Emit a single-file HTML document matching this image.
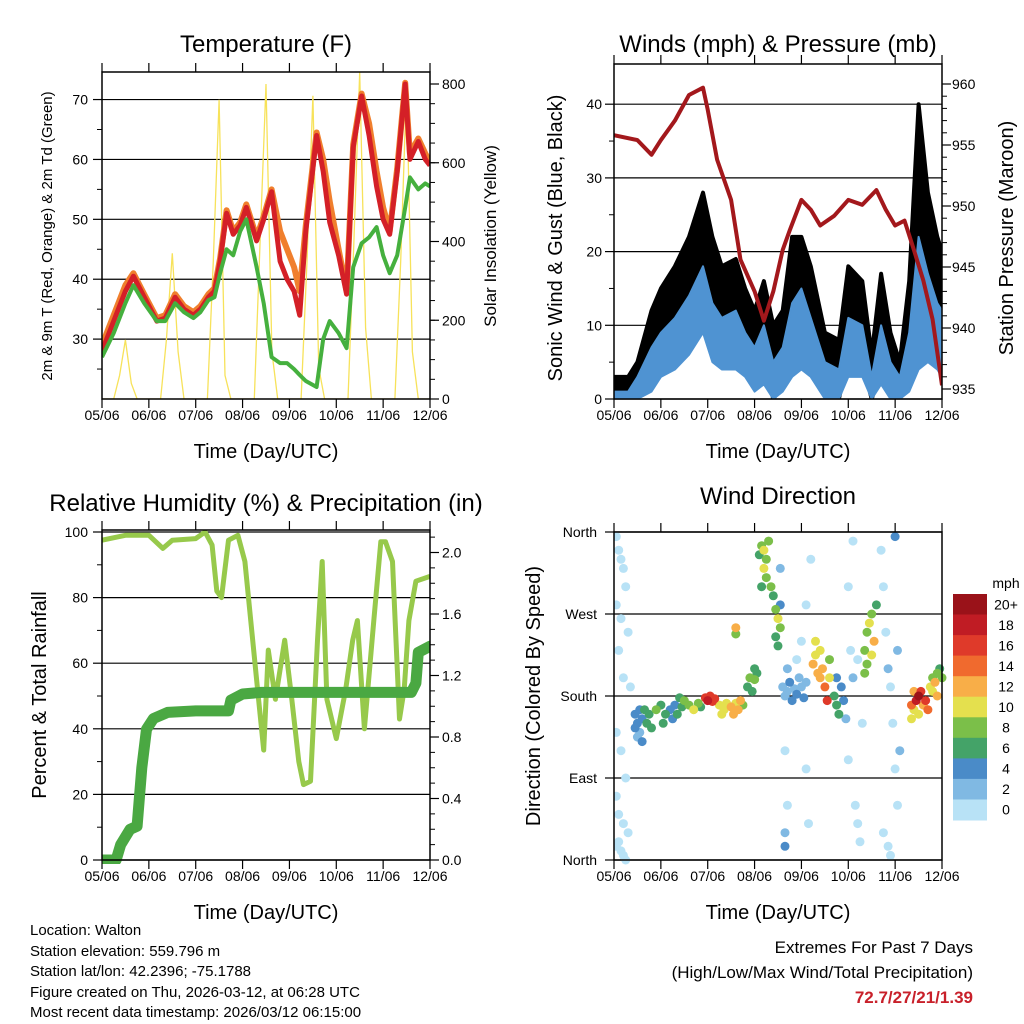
<!DOCTYPE html>
<html><head><meta charset="utf-8"><style>
html,body{margin:0;padding:0;background:#fff;}
svg{display:block;font-family:"Liberation Sans",sans-serif;}
</style></head><body>
<svg id="root" width="1024" height="1024" xmlns="http://www.w3.org/2000/svg"></svg>
<script>
// ---------- DATA ----------
const dayLabels = ["05/06","06/06","07/06","08/06","09/06","10/06","11/06","12/06"];
// Temperature
const tT = [0,0.25,0.5,0.67,0.9,1.17,1.35,1.56,1.75,1.95,2.1,2.27,2.4,2.52,2.66,2.8,2.95,3.08,3.3,3.45,3.62,3.8,3.95,4.1,4.22,4.35,4.58,4.72,4.86,5.05,5.22,5.36,5.54,5.7,5.86,6.0,6.14,6.3,6.47,6.57,6.75,6.9,7.0];
const temp2m = [28,33,38,40.5,37,33,33.5,37,35,34,35,37,38,43,51,47.5,49,52,46.4,50,54.6,43,40,38,34,48,64,58,49.5,44,37.5,62,70.6,64,55.5,50,47.5,58,72.6,60,63,60,59];
const temp9m = [29,34,39,41,37.5,33.5,34,37.5,35.5,34.5,35.5,37.5,38.5,43.5,51.5,48,49.5,52.5,47,50.5,55,48,45,42,38,49,64.5,60,53,45,38,62.5,71,66,58,52,48,58.5,72.8,61,63.5,61,59.5];
const dew2m = [27,31,36,39,36,33,33,36,34.5,33.5,34.5,36.5,37,41,45,44,48,50,42,36,27,26,26,25,24,23,22,30,33,31,28.5,42,46,47,48.7,44,41,44,52,57,55,56,55.5];
const tS = [];
for (let d=0; d<=7; d+=0.125) tS.push(d);
const solar = [0,0,0,60,150,40,0,0, 0,0,0,150,370,120,0,0, 0,0,0,350,760,60,0,0, 0,0,0,400,800,120,0,0, 0,0,0,350,770,80,0,0, 0,0,0,400,830,180,0,0, 0,0,0,350,800,120,0,0, 0];
// Winds
const tW = [0,0.3,0.5,0.8,1.0,1.3,1.6,1.9,2.1,2.3,2.6,2.8,3.0,3.2,3.4,3.6,3.8,4.0,4.2,4.5,4.8,5.0,5.3,5.5,5.7,5.9,6.1,6.3,6.5,6.7,6.9,7.0];
const gustHi = [3,3,5,12,15,18,22,28,22,18,19,15,12,16,10,12,22,22,18,9,8,18,16,6,17,9,5,16,40,28,22,20];
const gustLo = [0,0,0,3,5,7,10,14,8,6,7,5,3,5,0,2,5,8,5,1,0,6,5,0,4,1,0,3,8,10,7,5];
const windHi = [1,1,3,7,9,11,14,18,13,11,12,9,7,10,5,7,13,15,11,5,4,11,10,3,10,5,3,9,22,17,13,12];
const windLo = [0,0,0,1,3,4,6,9,5,4,4,3,1,2,0,1,3,4,3,0,0,3,3,0,2,0,0,1,4,5,4,3];
const tP = [0,0.5,0.8,1.0,1.3,1.6,1.9,2.0,2.2,2.5,2.7,3.0,3.2,3.4,3.6,3.75,4.0,4.2,4.4,4.7,5.0,5.3,5.6,5.8,6.0,6.2,6.4,6.6,6.8,7.0];
const pressure = [955.8,955.4,954.2,955.4,957,959.1,959.7,957.9,953.8,950.5,945.6,943,940.6,943,946.4,948,950.5,949.7,948.4,949.2,950.5,950.1,951.3,949.7,948.4,948.8,946.4,943.9,940.7,935.3];
// RH & precip
const tR = [0,0.5,1.0,1.3,1.5,2.0,2.2,2.35,2.45,2.55,2.7,2.9,3.05,3.3,3.45,3.55,3.7,3.9,4.05,4.2,4.3,4.45,4.6,4.7,4.8,5.0,5.2,5.35,5.45,5.6,5.8,5.95,6.05,6.2,6.35,6.45,6.55,6.7,7.0];
const rh = [97.5,99,99,95,97.5,98,100,96,82,80,97.5,99,91,55,33.5,64,49,67,49,30,23,24,67,91,49,37,52,67,73,40,73,97,97,91,43,52,73,85,86.5];
const tPr = [0,0.3,0.4,0.6,0.75,0.85,0.95,1.1,1.4,2.0,2.7,2.75,3.0,3.4,6.6,6.7,6.75,7.0];
const precip = [0,0,0.1,0.2,0.22,0.6,0.85,0.92,0.96,0.97,0.97,1.04,1.08,1.09,1.09,1.15,1.35,1.39];
// Wind direction scatter
const dirDay = [0.05,0.1,0.15,0.2,0.25,0.05,0.15,0.3,0.1,0.2,0.35,0.05,0.15,0.25,0.05,0.1,0.2,0.3,0.1,0.15,0.2,0.25,0.05,
0.45,0.5,0.55,0.6,0.45,0.5,0.65,0.7,0.75,0.8,0.55,0.6,
0.9,1.0,1.1,1.2,1.3,1.35,1.45,1.5,1.6,1.7,1.8,1.85,1.05,1.25,1.4,
1.95,2.0,2.05,2.1,2.15,
2.25,2.35,2.4,2.5,2.55,2.65,2.7,2.3,2.6,2.75,2.6,2.6,
2.85,2.9,3.0,3.05,2.95,3.0,
3.1,3.15,3.2,3.25,3.3,3.2,3.25,3.35,3.4,3.45,3.5,3.55,3.45,3.5,3.55,3.55,3.15,
3.6,3.65,3.7,3.75,3.8,3.85,3.9,3.95,4.0,4.05,4.1,3.7,3.9,4.0,3.65,3.7,3.65,3.65,4.1,4.1,4.2,4.15,
4.25,4.3,4.35,4.4,4.45,4.5,4.55,4.4,4.3,4.6,4.6,
4.7,4.75,4.8,4.85,4.75,4.9,4.95,
5.0,5.05,5.1,5.15,5.2,5.25,5.0,5.1,5.2,5.3,
5.35,5.4,5.45,5.5,5.55,5.5,5.4,5.6,5.35,
5.7,5.75,5.8,5.85,5.9,5.95,6.0,6.05,5.75,5.85,5.9,6.05,6.0,6.1,
6.35,6.4,6.45,6.5,6.55,6.6,6.65,6.4,6.5,6.7,6.35,
6.75,6.8,6.85,6.9,6.95,7.0,6.8,6.9];
const dirDeg = [355,340,330,320,300,280,265,250,230,200,190,140,120,90,70,50,40,30,20,10,5,0,15,
160,150,140,155,145,135,165,150,160,145,165,130,
165,170,160,165,170,160,168,175,170,165,172,168,150,155,178,
178,175,180,174,177,
170,165,172,168,160,165,175,160,172,170,255,248,
190,200,198,205,185,210,
335,345,340,330,350,320,310,300,290,275,265,255,245,235,280,320,300,
190,180,185,195,175,188,182,200,190,178,195,210,220,240,120,60,30,15,100,280,330,40,
215,225,205,230,210,190,175,200,240,220,200,
180,170,160,190,200,175,155,
300,230,200,60,40,20,110,350,220,150,
230,250,260,270,240,225,215,280,205,
340,300,250,210,190,150,100,60,30,15,5,230,355,120,
170,165,175,180,185,170,175,185,160,165,155,
190,200,195,205,210,200,185,180];
const dirSpd = [0,0,1,0,0,1,0,0,0,1,0,0,0,1,0,0,0,0,0,0,1,0,1,
4,4,3,5,4,3,6,6,7,6,4,4,
8,7,6,4,5,6,7,8,9,10,8,7,6,4,6,
17,18,17,16,17,
10,11,10,12,12,12,12,10,11,8,12,8,
7,8,8,6,7,6,
6,8,10,9,8,10,8,8,7,8,10,8,6,7,4,2,6,
2,3,2,4,4,3,4,2,3,4,2,2,1,1,0,0,2,4,0,0,0,0,
12,10,12,11,13,14,16,12,10,8,10,
6,6,7,5,4,4,3,
1,1,2,0,0,0,0,0,0,0,
8,9,10,8,12,10,8,7,9,
0,1,0,2,1,0,0,0,0,0,0,3,4,2,
14,10,18,20,16,12,16,12,10,14,10,
10,8,12,8,6,8,10,12];
const speedBins = ["0","2","4","6","8","10","12","14","16","18","20+"];
const speedColors = ["#b8e2f6","#80b9e3","#4a8bc8","#44a368","#7bbf49","#e4e04e","#f8ae48","#f06a2e","#df3a2a","#c01c24","#9a1219"];

// ---------- HELPERS ----------
const NS = "http://www.w3.org/2000/svg";
const root = document.getElementById('root');
function mk(tag, attrs, parent){
  const e = document.createElementNS(NS, tag);
  for (const k in attrs) e.setAttribute(k, attrs[k]);
  (parent||root).appendChild(e);
  return e;
}
function txt(s, x, y, size, anchor, parent, extra){
  const e = mk('text', Object.assign({x:x, y:y, 'font-size':size, 'text-anchor':anchor||'middle', fill:'#000'}, extra||{}), parent);
  e.textContent = s;
  return e;
}
function lin(d0,d1,r0,r1){ return v => r0 + (v-d0)/(d1-d0)*(r1-r0); }
function pathOf(xs, ys, fx, fy){
  return xs.map((x,i)=>(i?'L':'M')+fx(x).toFixed(1)+','+fy(ys[i]).toFixed(1)).join(' ');
}
function band(xs, hi, lo, fx, fy){
  let d = xs.map((x,i)=>(i?'L':'M')+fx(x).toFixed(1)+','+fy(hi[i]).toFixed(1)).join(' ');
  for (let i=xs.length-1;i>=0;i--) d += ' L'+fx(xs[i]).toFixed(1)+','+fy(lo[i]).toFixed(1);
  return d+' Z';
}
function frame(g, X0, X1, Y0, Y1, fx){
  for (let d=0; d<=7; d++){
    const x = fx(d);
    mk('line',{x1:x,y1:Y0,x2:x,y2:Y0-9,stroke:'#000','stroke-width':1.2},g);
    mk('line',{x1:x,y1:Y1,x2:x,y2:Y1+9,stroke:'#000','stroke-width':1.2},g);
    const t = txt(dayLabels[d], x, Y1+21, 14, 'middle', g);
    
    
  }
  const r = mk('rect',{x:X0,y:Y0,width:X1-X0,height:Y1-Y0,fill:'none',stroke:'#000','stroke-width':1.5},g);
  
  
  const xt = txt('Time (Day/UTC)', (X0+X1)/2, Y1+59, 20, 'middle', g);
  
  
}
function leftAxis(g, X0, X1, fy, majors, minors, labelFn, grid, lx){
  minors.forEach(v=>{ mk('line',{x1:X0,y1:fy(v),x2:X0-5,y2:fy(v),stroke:'#000','stroke-width':1},g); });
  majors.forEach(v=>{
    const y = fy(v);
    if (grid) mk('line',{x1:X0,y1:y,x2:X1,y2:y,stroke:'#000','stroke-width':1.2},g);
    mk('line',{x1:X0,y1:y,x2:X0-9,y2:y,stroke:'#000','stroke-width':1.2},g);
    const t = txt(labelFn(v), lx, y+5, 14, 'end', g);
    
    
  });
}
function rightAxis(g, X1, fy, majors, minors, labelFn, lx){
  minors.forEach(v=>{ mk('line',{x1:X1,y1:fy(v),x2:X1+5,y2:fy(v),stroke:'#000','stroke-width':1},g); });
  majors.forEach(v=>{
    const y = fy(v);
    mk('line',{x1:X1,y1:y,x2:X1+9,y2:y,stroke:'#000','stroke-width':1.2},g);
    const t = txt(labelFn(v), lx, y+5, 14, 'start', g);
    
    
  });
}
function range(a,b,s){ const r=[]; for(let v=a; v<=b+1e-9; v+=s) r.push(+v.toFixed(4)); return r; }
function vtitle(s, x, y, size, g, name){
  const t = txt(s, x, y, size, 'middle', g, {transform:'rotate(-90 '+x+' '+y+')'});
  
  
}

// ---------- TEMPERATURE ----------
(function(){
  const g = mk('g',{});
  
  
  const X0=102,X1=430,Y0=72,Y1=399;
  const fx = lin(0,7,X0,X1), fy = lin(20,74.6,Y1,Y0), fs = lin(0,800,Y1,84);
  const tt = txt('Temperature (F)', 266, 52, 24, 'middle', g);
  
  
  const clip = mk('clipPath',{id:'c1'},g); mk('rect',{x:X0,y:Y0,width:X1-X0,height:Y1-Y0},clip);
  leftAxis(g,X0,X1,fy,[30,40,50,60,70],[25,35,45,55,65],v=>String(v),true,88);
  rightAxis(g,X1,fs,[0,200,400,600,800],range(0,800,50),v=>String(v),442);
  const sp = mk('path',{d:pathOf(tS,solar,fx,fs),fill:'none',stroke:'#f7e25a','stroke-width':1.3,'clip-path':'url(#c1)'},g);
  
  
  const op = mk('path',{d:pathOf(tT,temp9m,fx,fy),fill:'none',stroke:'#f07f2d','stroke-width':6,'stroke-linejoin':'round','clip-path':'url(#c1)'},g);
  
  
  const rp = mk('path',{d:pathOf(tT,temp2m,fx,fy),fill:'none',stroke:'#d42027','stroke-width':5,'stroke-linejoin':'round','clip-path':'url(#c1)'},g);
  
  
  const gp = mk('path',{d:pathOf(tT,dew2m,fx,fy),fill:'none',stroke:'#45b03e','stroke-width':4,'stroke-linejoin':'round','clip-path':'url(#c1)'},g);
  
  
  frame(g,X0,X1,Y0,Y1,fx);
  vtitle('2m & 9m T (Red, Orange) & 2m Td (Green)', 52, 236, 15, g, 'y-axis-title');
  vtitle('Solar Insolation (Yellow)', 496, 236, 17, g, 'y2-axis-title');
})();

// ---------- WINDS ----------
(function(){
  const g = mk('g',{});
  
  
  const X0=614,X1=942,Y0=64,Y1=399;
  const fx = lin(0,7,X0,X1), fy = lin(0,10,Y1,325.3), fp = lin(935,960,389,84);
  const tt = txt('Winds (mph) & Pressure (mb)', 778, 52, 24, 'middle', g);
  
  
  const clip = mk('clipPath',{id:'c2'},g); mk('rect',{x:X0,y:Y0,width:X1-X0,height:Y1-Y0},clip);
  leftAxis(g,X0,X1,fy,[0,10,20,30,40],[5,15,25,35],v=>String(v),true,602);
  rightAxis(g,X1,fp,[935,940,945,950,955,960],range(935,960,1),v=>String(v),952);
  const gb = mk('path',{d:band(tW,gustHi,gustLo,fx,fy),fill:'#000',stroke:'#000','stroke-width':4,'stroke-linejoin':'round','clip-path':'url(#c2)'},g);
  
  
  const wb = mk('path',{d:band(tW,windHi,windLo,fx,fy),fill:'#4f93d2',stroke:'#4f93d2','stroke-width':2,'stroke-linejoin':'round','clip-path':'url(#c2)'},g);
  
  
  const pp = mk('path',{d:pathOf(tP,pressure,fx,fp),fill:'none',stroke:'#a3181c','stroke-width':4,'stroke-linejoin':'round','clip-path':'url(#c2)'},g);
  
  
  frame(g,X0,X1,Y0,Y1,fx);
  vtitle('Sonic Wind & Gust (Blue, Black)', 562, 238, 20, g, 'y-axis-title');
  vtitle('Station Pressure (Maroon)', 1013, 238, 20, g, 'y2-axis-title');
})();

// ---------- RH & PRECIP ----------
(function(){
  const g = mk('g',{});
  
  
  const X0=102,X1=430,Y0=530,Y1=860;
  const fx = lin(0,7,X0,X1), fy = lin(0,100,Y1,532), fr = lin(0,0.4,Y1,798.5);
  const tt = txt('Relative Humidity (%) & Precipitation (in)', 266, 511, 24, 'middle', g);
  
  
  const clip = mk('clipPath',{id:'c3'},g); mk('rect',{x:X0,y:Y0-4,width:X1-X0,height:Y1-Y0+8},clip);
  leftAxis(g,X0,X1,fy,[0,20,40,60,80,100],[10,30,50,70,90],v=>String(v),true,88);
  rightAxis(g,X1,fr,[0,0.4,0.8,1.2,1.6,2.0],range(0,2.1,0.1),v=>v.toFixed(1),442);
  const rp = mk('path',{d:pathOf(tR,rh,fx,fy),fill:'none',stroke:'#97c94b','stroke-width':5,'stroke-linejoin':'round','clip-path':'url(#c3)'},g);
  
  
  const pp = mk('path',{d:pathOf(tPr,precip,fx,fr),fill:'none',stroke:'#4aa842','stroke-width':11,'stroke-linejoin':'round','stroke-linecap':'round','clip-path':'url(#c3)'},g);
  
  
  frame(g,X0,X1,Y0,Y1,fx);
  vtitle('Percent & Total Rainfall', 46, 695, 20, g, 'y-axis-title');
})();

// ---------- WIND DIRECTION ----------
(function(){
  const g = mk('g',{});
  
  
  const X0=614,X1=942,Y0=532,Y1=860;
  const fx = lin(0,7,X0,X1), fy = lin(0,360,Y1,Y0);
  const tt = txt('Wind Direction', 778, 504, 24, 'middle', g);
  
  
  const names = {0:'North',90:'East',180:'South',270:'West',360:'North'};
  leftAxis(g,X0,X1,fy,[0,90,180,270,360],[],v=>names[v],true,597);
  const clip = mk('clipPath',{id:'c4'},g); mk('rect',{x:X0,y:Y0-5,width:X1-X0+5,height:Y1-Y0+10},clip);
  function colorFor(s){ let i = Math.min(10, Math.floor(s/2)); return speedColors[i]; }
  const order = dirDay.map((d,i)=>i).sort((a,b)=>dirSpd[a]-dirSpd[b]);
  order.forEach(i=>{
    const c = mk('circle',{cx:fx(dirDay[i]).toFixed(1),cy:fy(dirDeg[i]).toFixed(1),r:4.5,fill:colorFor(dirSpd[i]),'clip-path':'url(#c4)'},g);
    
    
  });
  frame(g,X0,X1,Y0,Y1,fx);
  vtitle('Direction (Colored By Speed)', 540, 696, 20, g, 'y-axis-title');
  const cb = mk('g',{},g);
  
  
  const by0=594, by1=820, bh=(by1-by0)/speedBins.length;
  const mt = txt('mph', 1006, 588, 14, 'middle', cb);
  
  
  for (let k=0;k<speedBins.length;k++){
    const idx = speedBins.length-1-k;
    const y = by0 + k*bh;
    const r = mk('rect',{x:953,y:y.toFixed(1),width:34,height:(bh+0.5).toFixed(1),fill:speedColors[idx]},cb);
    
    
    const t = txt(speedBins[idx], 1006, y+bh/2+5, 14, 'middle', cb);
    
    
  }
})();
</script>
<div style="position:absolute;left:0;top:0;width:1024px;height:1024px;pointer-events:none;font-family:'Liberation Sans',sans-serif;">
  <div style="position:absolute;left:30px;top:921px;font-size:15px;line-height:20.6px;color:#000;">
    <div>Location: Walton</div>
    <div>Station elevation: 559.796 m</div>
    <div>Station lat/lon: 42.2396; -75.1788</div>
    <div>Figure created on Thu, 2026-03-12, at 06:28 UTC</div>
    <div>Most recent data timestamp: 2026/03/12 06:15:00</div>
  </div>
  <div style="position:absolute;right:51px;top:935px;text-align:right;font-size:17px;line-height:25px;color:#000;">
    <div>Extremes For Past 7 Days</div>
    <div>(High/Low/Max Wind/Total Precipitation)</div>
    <div style="color:#c8202a;font-weight:bold;">72.7/27/21/1.39</div>
  </div>
</div>
</body></html>
